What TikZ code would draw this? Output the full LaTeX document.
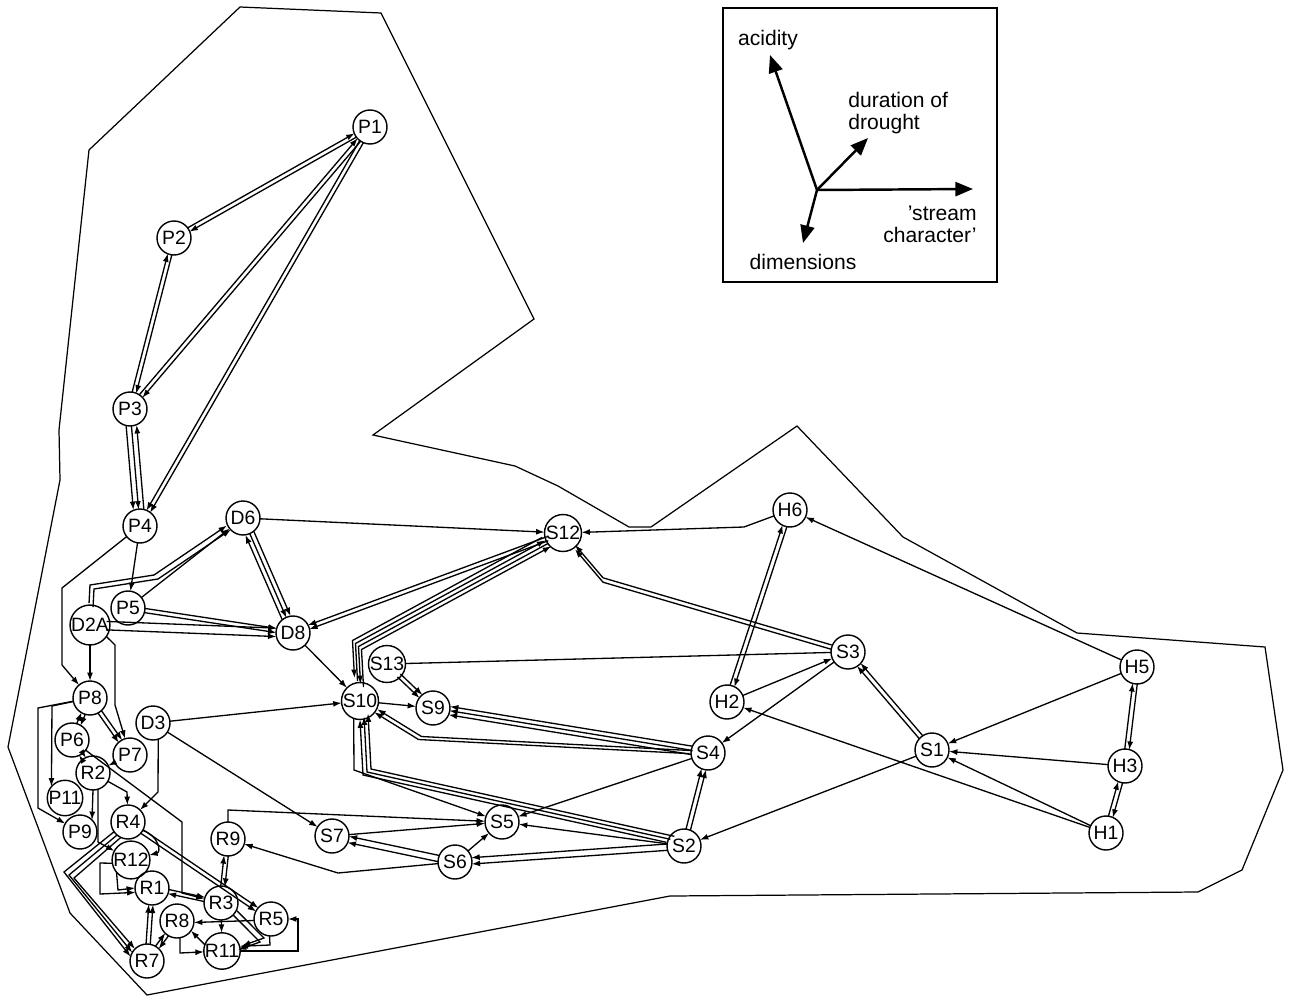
\documentclass[tikz,border=0pt]{standalone}
\usepackage{fontspec}
\setmainfont{Liberation Sans}
\usetikzlibrary{calc,arrows.meta}
\newcommand\lnk[4][ar]{\draw[#1,shorten <=0.33cm,shorten >=0.33cm] ($(#2)!#4!90:(#3)$) -- ($(#3)!#4!-90:(#2)$);}
\begin{document}
\begin{tikzpicture}[x=0.02cm,y=-0.02cm,
 nd/.style={circle,draw,line width=0.8pt,minimum size=0.68cm,inner sep=0pt,outer sep=0pt,font=\fontsize{11}{11}\selectfont},
 ln/.style={line width=0.75pt},
 ar/.style={ln,-{Latex[length=4.8pt,width=3.4pt]}},
 sh/.style={transform canvas={shift={#1}}},
 bd/.style={line width=0.7pt},
 lg/.style={line width=1.4pt,-{Triangle[length=10pt,width=8pt]}},
 lt/.style={font=\fontsize{12}{12.5}\selectfont,inner sep=0pt}]
\useasboundingbox (0,0) rectangle (1291,997);
% outline
\draw[bd] (89,150) -- (240,7) -- (381,13) -- (534,319) -- (373,435) -- (515,466) -- (558,486) -- (629,527) -- (651,527) -- (797,426) -- (903,537) -- (1077,633) -- (1265,647) -- (1283,770) -- (1242,870) -- (1198,892) -- (670,896) -- (147,995) -- (70,913) -- (8,747) -- (60,480) -- (59,430) -- cycle;
% legend
\draw[bd] (723,8) rectangle (997,282);
\coordinate (O) at (817,190);
\coordinate (Ac) at (770,55);
\coordinate (Du) at (868,138);
\coordinate (St) at (973,189);
\coordinate (Di) at (803,243);
\draw[lg] (O) -- (Ac);
\draw[lg] (O) -- (Du);
\draw[lg] (O) -- (St);
\draw[lg] (O) -- (Di);
\node[lt] (la) at (768,40) {acidity};
\node[lt,anchor=west,align=left] (ld) at (848,113) {duration of\\drought};
\node[lt,anchor=east,align=right] (ls) at (977,224) {'stream\\character'};
\node[lt] (lm) at (803,262) {dimensions};
% nodes
\node[nd] (P1) at (370,127) {P1};
\node[nd] (P2) at (174,238) {P2};
\node[nd] (P3) at (130,409) {P3};
\node[nd] (P4) at (140,526) {P4};
\node[nd] (P5) at (128,608) {P5};
\node[nd] (D2A) at (90,625) {D2A};
\node[nd] (D6) at (243,518) {D6};
\node[nd] (D8) at (293,633) {D8};
\node[nd] (S12) at (563,533) {S12};
\node[nd] (H6) at (790,510) {H6};
\node[nd] (S3) at (848,652) {S3};
\node[nd] (H5) at (1137,667) {H5};
\node[nd] (S13) at (387,664) {S13};
\node[nd] (S10) at (360,701) {S10};
\node[nd] (S9) at (433,708) {S9};
\node[nd] (H2) at (727,702) {H2};
\node[nd] (S4) at (708,753) {S4};
\node[nd] (S1) at (932,750) {S1};
\node[nd] (H3) at (1125,766) {H3};
\node[nd] (H1) at (1106,833) {H1};
\node[nd] (S2) at (684,846) {S2};
\node[nd] (S5) at (502,822) {S5};
\node[nd] (S7) at (332,836) {S7};
\node[nd] (S6) at (455,862) {S6};
\node[nd] (R9) at (228,839) {R9};
\node[nd] (D3) at (153,723) {D3};
\node[nd] (P8) at (90,698) {P8};
\node[nd] (P6) at (72,740) {P6};
\node[nd] (P7) at (130,755) {P7};
\node[nd] (R2) at (93,773) {R2};
\node[nd] (P11) at (65,798) {P11};
\node[nd] (P9) at (80,832) {P9};
\node[nd] (R4) at (128,822) {R4};
\node[nd] (R12) at (131,860) {R12};
\node[nd] (R1) at (152,888) {R1};
\node[nd] (R3) at (221,903) {R3};
\node[nd] (R5) at (271,919) {R5};
\node[nd] (R8) at (177,921) {R8};
\node[nd] (R11) at (222,951) {R11};
\node[nd] (R7) at (147,961) {R7};
% P region
\lnk{P1}{P2}{1.2pt}\lnk{P2}{P1}{1.2pt}
\lnk{P2}{P3}{1.2pt}\lnk{P3}{P2}{1.2pt}
\lnk{P1}{P3}{1.2pt}\lnk{P3}{P1}{1.2pt}
\lnk{P1}{P4}{1.2pt}\lnk{P1}{P4}{-1.2pt}
\lnk{P3}{P4}{-3pt}\lnk{P3}{P4}{0pt}\lnk{P4}{P3}{-3pt}
\draw[ar] (P4) -- (P5);
\draw[ar] (P4) -- (62,588) -- (62,665) -- (P8);
\draw[ar] (D2A) -- (P8);
\draw[ar,sh={(-2,-2)}] (D2A) -- (92,587) -- (156,577) -- (D6);
\draw[ar,sh={(2,2)}] (D2A) -- (92,587) -- (156,577) -- (D6);
\draw[ar] (P5) -- (D6);
\lnk{P5}{D8}{1.2pt}\lnk{P5}{D8}{-1.2pt}
\lnk{D2A}{D8}{2.4pt}\lnk{D2A}{D8}{-2.4pt}
\lnk{D6}{D8}{0pt}\lnk{D6}{D8}{2.6pt}\lnk{D8}{D6}{2.6pt}
\draw[ar] (D6) -- (S12);
\lnk{S12}{D8}{1.2pt}\lnk{S12}{D8}{-1.2pt}
\draw[ar] (D8) -- (S10);
% S12 - S10 bundle
\draw[ar,sh={(-4.5,-4.5)}] (S12) -- (357,645) -- (S10);
\draw[ar,sh={(-1.5,-1.5)}] (S10) -- (357,645) -- (S12);
\draw[ar,sh={(1.5,1.5)}] (S12) -- (357,645) -- (S10);
\draw[ar,sh={(4.5,4.5)}] (S10) -- (357,645) -- (S12);
\draw[ln] (S3) -- (S13);
\lnk{S13}{S9}{1.2pt}\lnk{S13}{S9}{-1.2pt}
\draw[ar] (S10) -- (S9);
\lnk{S4}{S9}{-2.4pt}\lnk{S4}{S9}{0pt}\lnk{S4}{S9}{2.4pt}
\draw[ar,sh={(1.5,-1.5)}] (S4) -- (420,738) -- (S10);
\draw[ar,sh={(-1.5,1.5)}] (S4) -- (420,738) -- (S10);
\draw[ar] (S10.250) -- (354,770) -- (S5);
\draw[ar,sh={(-1,0)}] (S2) -- (364,775) -- (S10);
\draw[ar,sh={(3,-3)}] (S2) -- (364,775) -- (S10);
\draw[ar,sh={(7,-6)}] (S2) -- (364,775) -- (S10);
% S3 / H region
\draw[ar,sh={(0,-2.2)}] (S3) -- (603,580) -- (S12);
\draw[ar,sh={(0,2.2)}] (S3) -- (603,580) -- (S12);
\draw[ar] (H6) -- (744,527) -- (S12);
\lnk{H6}{H2}{1.3pt}\lnk{H2}{H6}{1.3pt}
\draw[ar] (H2) -- (S3);
\draw[ar] (S3) -- (S4);
\lnk{S1}{S3}{1.3pt}\lnk{S1}{S3}{-1.3pt}
\draw[ar] (H5) -- (H6);
\draw[ar] (H5) -- (S1);
\draw[ar] (H3) -- (S1);
\draw[ar] (H1) -- (S1);
\draw[ar] (H1) -- (H2);
\lnk{H5}{H3}{1.3pt}\lnk{H3}{H5}{1.3pt}
\lnk{H1}{H3}{1.3pt}\lnk{H3}{H1}{1.3pt}
\draw[ar] (S1) -- (S2);
\lnk{S2}{S4}{1.3pt}\lnk{S2}{S4}{-1.3pt}
\draw[ar] (S4) -- (S5);
\draw[ar] (S2) -- (S5);
\lnk{S2}{S6}{1.8pt}\lnk{S2}{S6}{-1.8pt}
\lnk{S6}{S7}{1.8pt}\lnk{S6}{S7}{-1.8pt}
\draw[ar] (S6) -- (S5);
\draw[ar] (S7) -- (S5);
\draw[ar] (R9) -- (228,810) -- (S5);
\draw[ar] (S6) -- (338,873) -- (R9);
\draw[ar] (D3) -- (S10);
\draw[ar] (D3) -- (S7);
\draw[ar] (D3.-72) -- (158,792) -- (R4);
% lower-left cluster
\lnk{P8}{P6}{1.2pt}\lnk{P6}{P8}{1.2pt}
\lnk{P8}{P7}{1.2pt}\lnk{P8}{P7}{-1.2pt}
\draw[ar] (P8) -- (52,706) -- (P11.140);
\draw[ar] (P8) -- (38,708) -- (38,808) -- (P9);
\lnk{P6}{R2}{1.2pt}\lnk{R2}{P6}{1.2pt}
\draw[ar] (P6) -- (182,822) -- (182,893) -- (R3);
\draw[ar] (D2A.-35) -- (115,645) -- (115,705) -- (P7);
\draw[ar] (P7) -- (R2);
\draw[ar] (R2.-90) -- (P9.45);
\draw[ar] (R2.-73) -- (98,842) -- (R12);
\draw[ar] (R2) -- (127,792) -- (R4);
\lnk{R4}{R5}{1.2pt}\lnk{R4}{R5}{-1.2pt}
\draw[ar] (R4.-30) .. controls (158,835) and (162,852) .. (R12.15);
\draw[ar] (R4.215) -- (64,872) -- (R7.165);
\draw[ar] (R4.230) -- (69,875) -- (R7.150);
\draw[ar] (R4.245) -- (74,878) -- (R7.135);
\draw[ar] (R12.-140) -- (118,890) -- (R1.180);
\draw[ar] (R12.190) -- (100,863) -- (100,894) -- (R1.195);
\lnk{R7}{R1}{1.2pt}\lnk{R7}{R1}{-1.2pt}
\lnk{R1}{R3}{1.2pt}\lnk{R3}{R1}{1.2pt}
\lnk{R9}{R3}{1.2pt}\lnk{R3}{R9}{1.2pt}
\draw[ar] (R5.185) -- (R8.-5);
\draw[ar] (R3) -- (R11);
\draw[ar] (R11) -- (298,951) -- (298,919) -- (R5);
\draw[ar] (R5.-95) -- (270,945) -- (R11.15);
\draw[ar,sh={(-2,2)}] (R3.-35) -- (262,940) -- (R11.10);
\draw[ar,sh={(2,-2)}] (R3.-35) -- (262,940) -- (R11.10);
\draw[ar] (R8.-80) -- (180,953) -- (R11);
\draw[ar] (R11.160) -- (R8.-35);
\lnk{R8}{R7}{1.2pt}\lnk{R7}{R8}{1.2pt}
\end{tikzpicture}
\end{document}
